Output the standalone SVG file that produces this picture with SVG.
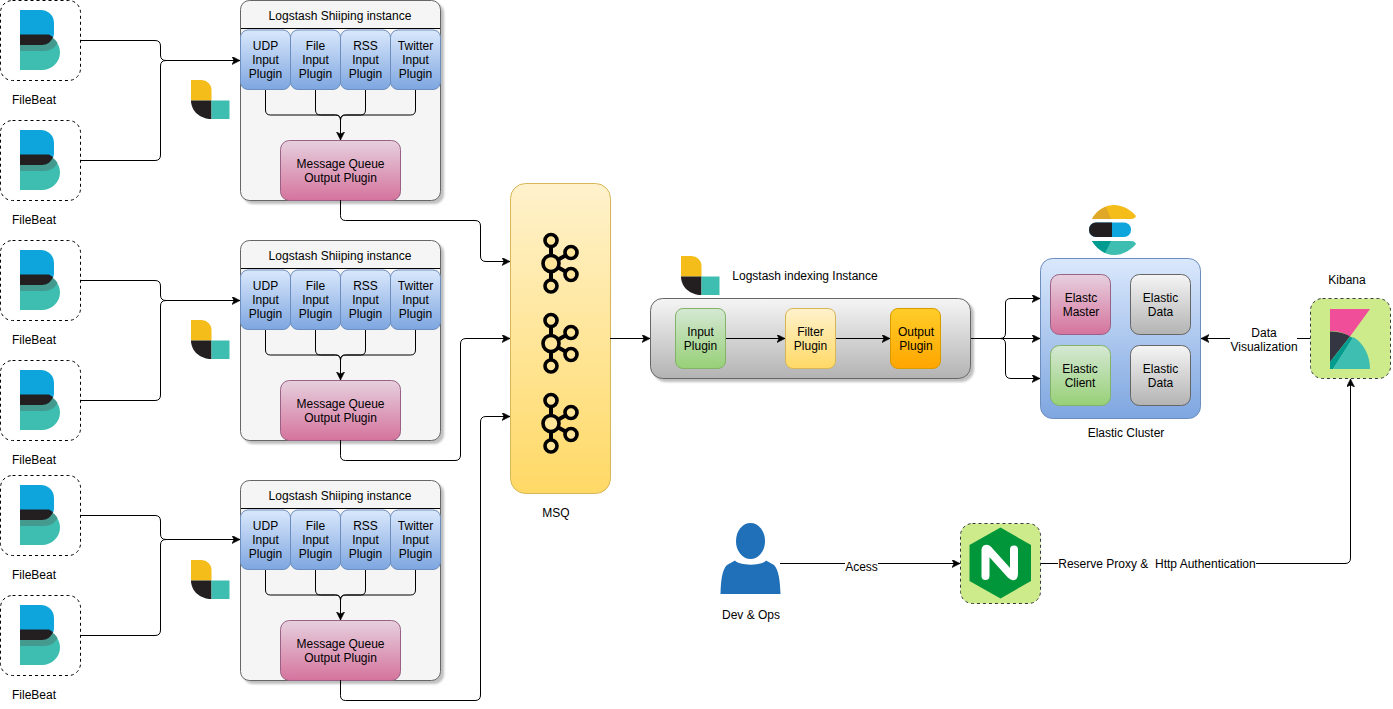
<svg xmlns="http://www.w3.org/2000/svg" xmlns:xlink="http://www.w3.org/1999/xlink" width="1393" height="709" viewBox="0 0 1393 709">
<style>
text{font-family:"Liberation Sans",Arial,sans-serif;font-size:12px;fill:#000;text-anchor:middle;white-space:pre}
.dash{fill:#fff;stroke:#000;stroke-dasharray:3 3}
.dashg{fill:#cdeb8b;stroke:#36393d;stroke-dasharray:3 3}
.c{fill:none;stroke:#000;stroke-width:1}
.blue{fill:url(#gBlue);stroke:#6c8ebf}
.pink{fill:url(#gPink);stroke:#996185}
.green{fill:url(#gGreen);stroke:#82b366}
.yellow{fill:url(#gYellow);stroke:#d6b656}
.orange{fill:url(#gOrange);stroke:#d79b00}
.gray{fill:url(#gGray);stroke:#666}
.panel{fill:#f5f5f5;stroke:#666}
.k{fill:none;stroke:#000;stroke-width:4}
</style>
<defs>
<linearGradient id="gBlue" x1="0" y1="0" x2="0" y2="1"><stop offset="0" stop-color="#dae8fc"/><stop offset="1" stop-color="#7ea6e0"/></linearGradient>
<linearGradient id="gPink" x1="0" y1="0" x2="0" y2="1"><stop offset="0" stop-color="#e6d0de"/><stop offset="1" stop-color="#d5739d"/></linearGradient>
<linearGradient id="gGreen" x1="0" y1="0" x2="0" y2="1"><stop offset="0" stop-color="#d5e8d4"/><stop offset="1" stop-color="#97d077"/></linearGradient>
<linearGradient id="gYellow" x1="0" y1="0" x2="0" y2="1"><stop offset="0" stop-color="#fff2cc"/><stop offset="1" stop-color="#ffd966"/></linearGradient>
<linearGradient id="gOrange" x1="0" y1="0" x2="0" y2="1"><stop offset="0" stop-color="#ffcd28"/><stop offset="1" stop-color="#ffa500"/></linearGradient>
<linearGradient id="gGray" x1="0" y1="0" x2="0" y2="1"><stop offset="0" stop-color="#f5f5f5"/><stop offset="1" stop-color="#b3b3b3"/></linearGradient>
<filter id="sh" x="-5%" y="-5%" width="115%" height="115%"><feDropShadow dx="3" dy="3" stdDeviation="1" flood-color="#000" flood-opacity="0.25"/></filter>
<marker id="arr" markerWidth="10" markerHeight="10" refX="8" refY="4" orient="auto" markerUnits="userSpaceOnUse"><path d="M0 0L8 4L0 8L2 4Z" fill="#000" stroke="#000" stroke-width="0.6"/></marker>
<g id="beat">
<rect x="0.500" y="0.500" width="80" height="80" rx="12" class="dash"/>
<path d="M20 10H41A13 13 0 0 1 54 23V33A12 12 0 0 1 42 45H20Z" fill="#0ea5dd"/>
<path d="M20 35H42C52 35 60 43 60 52.500C60 62 52 70 42 70H20Z" fill="#3ebeb0"/>
<path d="M20 45H42C47 45 50 41 52 37.500C55 39 57 42 57.500 43C55 48 50 51 44 51H20Z" fill="#459a8f"/>
<path d="M20 45H42C47 45 51 42 53 37L49 34.500H20Z" fill="#231f20"/>
</g>
<g id="ls">
<path d="M0 0H10A10 10 0 0 1 20.500 10.500V20.500H0Z" fill="#f4bd19"/>
<path d="M0 20.500H20.500V39C9 39 0 31 0 20.500Z" fill="#231f20"/>
<rect x="20.500" y="20.500" width="18" height="18.500" fill="#3ebeb0"/>
</g>
<g id="kafka">
<path class="k" d="M9 12V48M9 29.500L29 18.500M9 29.500L29 40.500"/>
<g fill="#ffe59a" stroke="#000" stroke-width="3.600">
<circle cx="9" cy="6.500" r="6"/>
<circle cx="9" cy="29.500" r="8"/>
<circle cx="9" cy="52" r="6"/>
<circle cx="29" cy="18.500" r="6"/>
<circle cx="29" cy="40.500" r="6"/>
</g>
</g>
<g id="pipe">
<rect x="240.500" y="0.500" width="200" height="200" rx="9" class="panel" filter="url(#sh)"/>
<path d="M241 28.500H440" class="c"/>
<text x="340" y="20">Logstash Shiiping instance</text>
<path class="c" d="M265.500 89V110Q265.500 115 270.500 115H335.500Q340.500 115 340.500 120M315.500 89V110Q315.500 115 320.500 115H335.500Q340.500 115 340.500 120M365.500 89V110Q365.500 115 360.500 115H345.500Q340.500 115 340.500 120M415.500 89V110Q415.500 115 410.500 115H345.500Q340.500 115 340.500 120V140" marker-end="url(#arr)"/>
<rect x="240.500" y="30" width="50" height="59.500" rx="7.500" class="blue"/>
<rect x="290.500" y="30" width="50" height="59.500" rx="7.500" class="blue"/>
<rect x="340.500" y="30" width="50" height="59.500" rx="7.500" class="blue"/>
<rect x="390.500" y="30" width="50" height="59.500" rx="7.500" class="blue"/>
<text x="265.500" y="50">UDP</text><text x="265.500" y="64">Input</text><text x="265.500" y="78">Plugin</text>
<text x="315.500" y="50">File</text><text x="315.500" y="64">Input</text><text x="315.500" y="78">Plugin</text>
<text x="365.500" y="50">RSS</text><text x="365.500" y="64">Input</text><text x="365.500" y="78">Plugin</text>
<text x="415.500" y="50">Twitter</text><text x="415.500" y="64">Input</text><text x="415.500" y="78">Plugin</text>
<rect x="280.500" y="140.500" width="120" height="60" rx="9" class="pink"/>
<text x="340.500" y="168">Message Queue</text><text x="340.500" y="182">Output Plugin</text>
</g>
<g id="feed">
<path class="c" d="M80 40.500H155Q160.500 40.500 160.500 46V55Q160.500 60.500 166 60.500H240" marker-end="url(#arr)"/>
<path class="c" d="M80 160.500H155Q160.500 160.500 160.500 155V66Q160.500 60.500 166 60.500"/>
</g>
</defs>

<g id="shipper-1"><use href="#pipe"/></g>
<g id="shipper-2"><use href="#pipe" y="240"/></g>
<g id="shipper-3"><use href="#pipe" y="480"/></g>

<g id="msq">
<rect x="510.500" y="183.500" width="100" height="310" rx="15" class="yellow"/>
<use href="#kafka" x="542" y="234"/>
<use href="#kafka" x="542" y="314"/>
<use href="#kafka" x="542" y="394"/>
<text x="556" y="517">MSQ</text>
</g>

<g id="indexer">
<rect x="650.500" y="298.500" width="320" height="80" rx="12" class="gray" filter="url(#sh)"/>
<use href="#ls" x="681" y="256"/>
<text x="805" y="280">Logstash indexing Instance</text>
<rect x="675.500" y="308.500" width="50" height="60" rx="7.500" class="green"/>
<text x="700.500" y="336">Input</text><text x="700.500" y="350">Plugin</text>
<rect x="785.500" y="308.500" width="50" height="60" rx="7.500" class="yellow"/>
<text x="810.500" y="336">Filter</text><text x="810.500" y="350">Plugin</text>
<rect x="890.500" y="308.500" width="50" height="60" rx="7.500" class="orange"/>
<text x="916" y="336">Output</text><text x="916" y="350">Plugin</text>
</g>

<g id="connectors">
<use href="#feed"/>
<use href="#feed" y="240"/>
<path class="c" d="M80 515.500H155Q160.500 515.500 160.500 521V534Q160.500 539.500 166 539.500H240" marker-end="url(#arr)"/>
<path class="c" d="M80 635.500H155Q160.500 635.500 160.500 630V545Q160.500 539.500 166 539.500"/>
<path class="c" d="M340.500 200V215.500Q340.500 220.500 345.500 220.500H475Q480.500 220.500 480.500 226V256Q480.500 261.500 486 261.500H510" marker-end="url(#arr)"/>
<path class="c" d="M340.500 440V455.500Q340.500 460.500 345.500 460.500H455Q460.500 460.500 460.500 455V344Q460.500 338.500 466 338.500H510" marker-end="url(#arr)"/>
<path class="c" d="M340.500 680V695.500Q340.500 700.500 345.500 700.500H475Q480.500 700.500 480.500 695V422Q480.500 416.500 486 416.500H510" marker-end="url(#arr)"/>
<path class="c" d="M610 338.500H650" marker-end="url(#arr)"/>
<path class="c" d="M726 338.500H785" marker-end="url(#arr)"/>
<path class="c" d="M836 338.500H890" marker-end="url(#arr)"/>
<path class="c" d="M971 338.500H1040" marker-end="url(#arr)"/>
<path class="c" d="M1000 338.500Q1005.500 338.500 1005.500 333V303Q1005.500 298.500 1011 298.500H1040" marker-end="url(#arr)"/>
<path class="c" d="M1000 338.500Q1005.500 338.500 1005.500 344V373Q1005.500 378.500 1011 378.500H1040" marker-end="url(#arr)"/>
<path class="c" d="M1310 338.500H1201" marker-end="url(#arr)"/>
<path class="c" d="M780 563.500H960" marker-end="url(#arr)"/>
<path class="c" d="M1040 563.500H1345Q1350.500 563.500 1350.500 558V379" marker-end="url(#arr)"/>
</g>

<g id="filebeat-1"><use href="#beat"/><text x="34" y="104">FileBeat</text></g>
<g id="filebeat-2"><use href="#beat" y="120"/><text x="34" y="224">FileBeat</text></g>
<g id="filebeat-3"><use href="#beat" y="240"/><text x="34" y="344">FileBeat</text></g>
<g id="filebeat-4"><use href="#beat" y="360"/><text x="34" y="464">FileBeat</text></g>
<g id="filebeat-5"><use href="#beat" y="475"/><text x="34" y="579">FileBeat</text></g>
<g id="filebeat-6"><use href="#beat" y="595"/><text x="34" y="699">FileBeat</text></g>

<g id="logstash-icon-1"><use href="#ls" x="191" y="80"/></g>
<g id="logstash-icon-2"><use href="#ls" x="191" y="320"/></g>
<g id="logstash-icon-3"><use href="#ls" x="191" y="560"/></g>

<g id="elastic-cluster">
<path d="M1092 219C1098 209 1106 205 1114 205C1123 205 1131 210 1136 216Q1135 219 1131 219Z" fill="#f4bd19"/>
<path d="M1092 219C1095 213 1100 209 1106 207L1111 219Z" fill="#dfa828"/>
<rect x="1089" y="222.500" width="42" height="14.500" rx="7" fill="#0ea5dd"/>
<path d="M1096 222.500H1112V237H1096A7 7 0 0 1 1089 230A7 7 0 0 1 1096 222.500Z" fill="#231f20"/>
<path d="M1092 241H1131Q1135 241 1136 244C1131 250 1123 255 1114 255C1105 255 1097 249 1092 241Z" fill="#3ebeb0"/>
<path d="M1092 241H1111L1105 253C1099 250 1095 246 1092 241Z" fill="#019b8f"/>
<rect x="1040.500" y="258.500" width="160" height="160" rx="12" class="blue"/>
<rect x="1050.500" y="274.500" width="60" height="60" rx="9" class="pink"/>
<text x="1081" y="302">Elastc</text><text x="1081" y="316">Master</text>
<rect x="1130.500" y="274.500" width="60" height="60" rx="9" class="gray"/>
<text x="1160.500" y="302">Elastic</text><text x="1160.500" y="316">Data</text>
<rect x="1050.500" y="345.500" width="60" height="60" rx="9" class="green"/>
<text x="1080" y="373">Elastic</text><text x="1080" y="387">Client</text>
<rect x="1130.500" y="345.500" width="60" height="60" rx="9" class="gray"/>
<text x="1160.500" y="373">Elastic</text><text x="1160.500" y="387">Data</text>
<text x="1126" y="437">Elastic Cluster</text>
</g>

<g id="kibana">
<text x="1347" y="284">Kibana</text>
<rect x="1310.500" y="298.500" width="80" height="80" rx="12" class="dashg"/>
<path d="M1330 309H1370L1350 336.500C1345 333 1338 331 1330 331Z" fill="#f04e98"/>
<path d="M1330 331.500C1338 331.500 1345 333 1350 336.500L1330 362Z" fill="#343741"/>
<path d="M1330 362L1350 336.500L1353 338L1333 369H1330Z" fill="#019b8f"/>
<path d="M1333 369L1353 337C1363 342 1370 355 1370 369Z" fill="#3ebeb0"/>
</g>

<g id="nginx">
<rect x="960.500" y="523.500" width="80" height="80" rx="12" class="dashg"/>
<path d="M1000.500 527.500L1031 545V581L1000.500 598.500L969.500 581V545Z" fill="#009639"/>
<path d="M985.500 576V550Q985.500 548 988 549.500L1011 575Q1014 578 1014 574V549.500" fill="none" stroke="#fff" stroke-width="8" stroke-linejoin="round" stroke-linecap="round"/>
</g>

<g id="devops">
<ellipse cx="750.500" cy="541" rx="14.500" ry="18" fill="#1f70b8"/>
<path d="M720.500 594C721 580 722 570 727 565L735 560.500C739 566 762 566 766 560.500L774 565C779 570 780 582 780.500 594Z" fill="#1f70b8"/>
<text x="751" y="619">Dev &amp; Ops</text>
</g>

<g id="edge-labels">
<rect x="845" y="558" width="33" height="15" fill="#fff"/>
<text x="861.500" y="571">Acess</text>
<rect x="1058" y="556" width="198" height="15" fill="#fff"/>
<text x="1157" y="568">Reserve Proxy &amp;  Http Authentication</text>
<rect x="1230" y="326" width="67" height="29" fill="#fff"/>
<text x="1264" y="337">Data</text>
<text x="1264" y="351">Visualization</text>
</g>
</svg>
